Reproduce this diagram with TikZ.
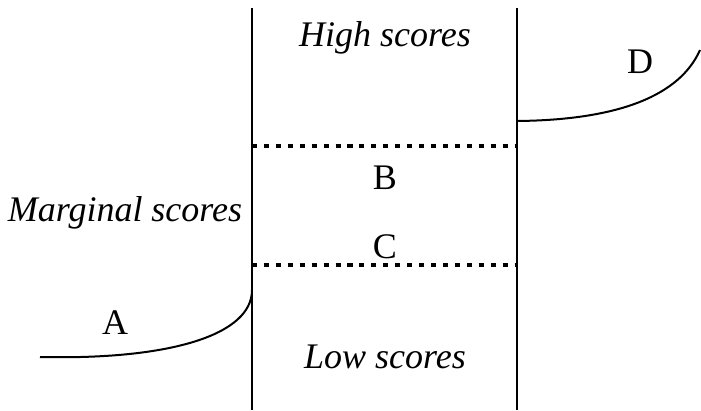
\documentclass[tikz,border=0pt]{standalone}
\usepackage{fontspec}
\setmainfont{Liberation Serif}
\usepackage{tikz}
\usetikzlibrary{positioning}
\tikzset{
  bandline/.style={line width=1.5pt},
  cutline/.style={line width=3pt, dash pattern=on 3.8pt off 5.15pt},
  tailcurve/.style={line width=1.5pt},
  zonelabel/.style={font=\fontsize{27pt}{31pt}\selectfont\itshape, inner sep=0pt},
  letterlabel/.style={font=\fontsize{27pt}{31pt}\selectfont, inner sep=0pt}
}
\begin{document}
\begin{tikzpicture}[x=0.75pt, y=-0.75pt]
  \useasboundingbox (0,0) rectangle (701,411);

  % Band borders
  \draw[bandline] (252,8) -- (252,410);
  \draw[bandline] (517,8) -- (517,410);

  % Cut-offs
  \draw[cutline] (252,146) -- (518,146);
  \draw[cutline] (252,265) -- (518,265);

  % Tails A and D
  \draw[tailcurve] (40,357) .. controls (170,360) and (252,335) .. (252,290);
  \draw[tailcurve] (517,121) .. controls (620,120) and (680,95) .. (700,50);

  % Labels
  \node[zonelabel] (high) at (385,38) {High scores};
  \node[letterlabel] (d) at (640,62) {D};
  \node[letterlabel] (b) at (385,178) {B};
  \node[zonelabel] (marginal) at (125,213) {Marginal scores};
  \node[letterlabel] (c) at (385,247) {C};
  \node[letterlabel] (a) at (115,323) {A};
  \node[zonelabel] (low) at (385,357) {Low scores};
\end{tikzpicture}
\end{document}
